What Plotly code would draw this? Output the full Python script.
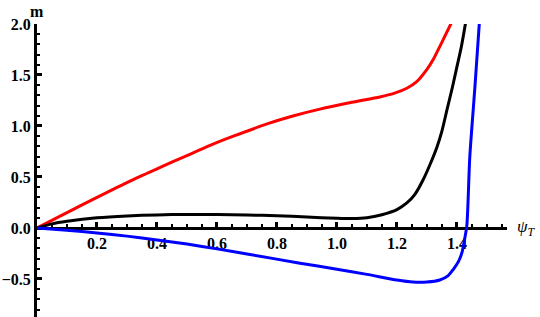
import plotly.graph_objects as go

# ---- data ----
red_x = [0, 0.1, 0.2, 0.31, 0.4, 0.5, 0.577, 0.65, 0.767, 0.85, 0.943, 1.05, 1.143, 1.19, 1.233, 1.266, 1.30, 1.32, 1.353, 1.383]
red_y = [0, 0.15, 0.30, 0.46, 0.58, 0.71, 0.81, 0.895, 1.02, 1.095, 1.165, 1.232, 1.285, 1.32, 1.37, 1.434, 1.555, 1.647, 1.84, 2.02]

black_x = [0, 0.05, 0.1, 0.2, 0.3, 0.4, 0.5, 0.6, 0.7, 0.8, 0.9, 1.0, 1.05, 1.1, 1.15, 1.2, 1.233, 1.26, 1.287, 1.31, 1.333, 1.35, 1.367, 1.385, 1.4, 1.415, 1.43]
black_y = [0, 0.04, 0.065, 0.10, 0.118, 0.128, 0.133, 0.132, 0.127, 0.12, 0.107, 0.095, 0.092, 0.10, 0.13, 0.18, 0.245, 0.33, 0.47, 0.62, 0.79, 0.95, 1.16, 1.38, 1.58, 1.78, 2.03]

blue_x = [0, 0.1, 0.2, 0.3, 0.4, 0.5, 0.6, 0.7, 0.877, 1.0, 1.1, 1.2, 1.253, 1.3, 1.343, 1.37, 1.387, 1.405, 1.417, 1.425, 1.433, 1.443, 1.46, 1.475]
blue_y = [0, -0.022, -0.05, -0.08, -0.117, -0.158, -0.205, -0.255, -0.345, -0.405, -0.455, -0.51, -0.53, -0.53, -0.51, -0.47, -0.41, -0.33, -0.24, -0.12, 0.02, 0.70, 1.38, 2.02]

x_ticks = [0.2, 0.4, 0.6, 0.8, 1.0, 1.2, 1.4]
x_tick_text = ["0.2", "0.4", "0.6", "0.8", "1.0", "1.2", "1.4"]
y_ticks = [-0.5, 0.0, 0.5, 1.0, 1.5, 2.0]
y_tick_text = ["\u22120.5", "0.0", "0.5", "1.0", "1.5", "2.0"]

x_range = [0, 1.567]
y_range = [-0.873, 2.0]

fig = go.Figure()
for xs, ys, col in [(red_x, red_y, "#ff0000"), (black_x, black_y, "#000000"), (blue_x, blue_y, "#0000ff")]:
    fig.add_trace(go.Scatter(x=xs, y=ys, mode="lines",
                             line=dict(color=col, width=3, shape="spline", smoothing=0.7),
                             showlegend=False, hoverinfo="skip", cliponaxis=True))

serif = "Liberation Serif, Times New Roman, serif"
tick_font = dict(family=serif, size=16, color="black")
zero_pos = (0 - y_range[0]) / (y_range[1] - y_range[0])

fig.update_layout(
    width=540, height=317,
    margin=dict(l=37, r=33, t=24, b=0),
    paper_bgcolor="white", plot_bgcolor="white",
    xaxis=dict(range=x_range, anchor="free", position=zero_pos,
               showgrid=False, zeroline=False, showline=True, linecolor="black", linewidth=3,
               ticks="inside", ticklen=5, tickwidth=2.5, tickcolor="black",
               tickvals=x_ticks, ticktext=["<b>%s</b>" % t for t in x_tick_text], tickfont=tick_font,
               minor=dict(ticks="inside", ticklen=3, tickwidth=2, tickcolor="black", dtick=0.05, tick0=0),
               layer="below traces", fixedrange=True),
    yaxis=dict(range=y_range, showgrid=False, zeroline=False, showline=True, linecolor="black", linewidth=3,
               ticks="inside", ticklen=5, tickwidth=2.5, tickcolor="black",
               tickvals=y_ticks, ticktext=["<b>%s</b>" % t for t in y_tick_text], tickfont=tick_font,
               minor=dict(ticks="inside", ticklen=3, tickwidth=2, tickcolor="black", dtick=0.1, tick0=0),
               layer="below traces", fixedrange=True),
    annotations=[
        dict(text="<b>m</b>", x=0, y=1, xref="paper", yref="paper", xanchor="center", yanchor="bottom",
             yshift=2, showarrow=False, font=dict(family=serif, size=16, color="black")),
        dict(text="<i>ψ</i><sub><i>T</i></sub>", x=1, y=zero_pos, xref="paper", yref="paper", xanchor="left",
             yanchor="middle", xshift=8, showarrow=False,
             font=dict(family=serif, size=17, color="black")),
    ],
)

fig.write_html("out.html", config={"displayModeBar": False},
               post_script="document.body.style.margin='0';")
